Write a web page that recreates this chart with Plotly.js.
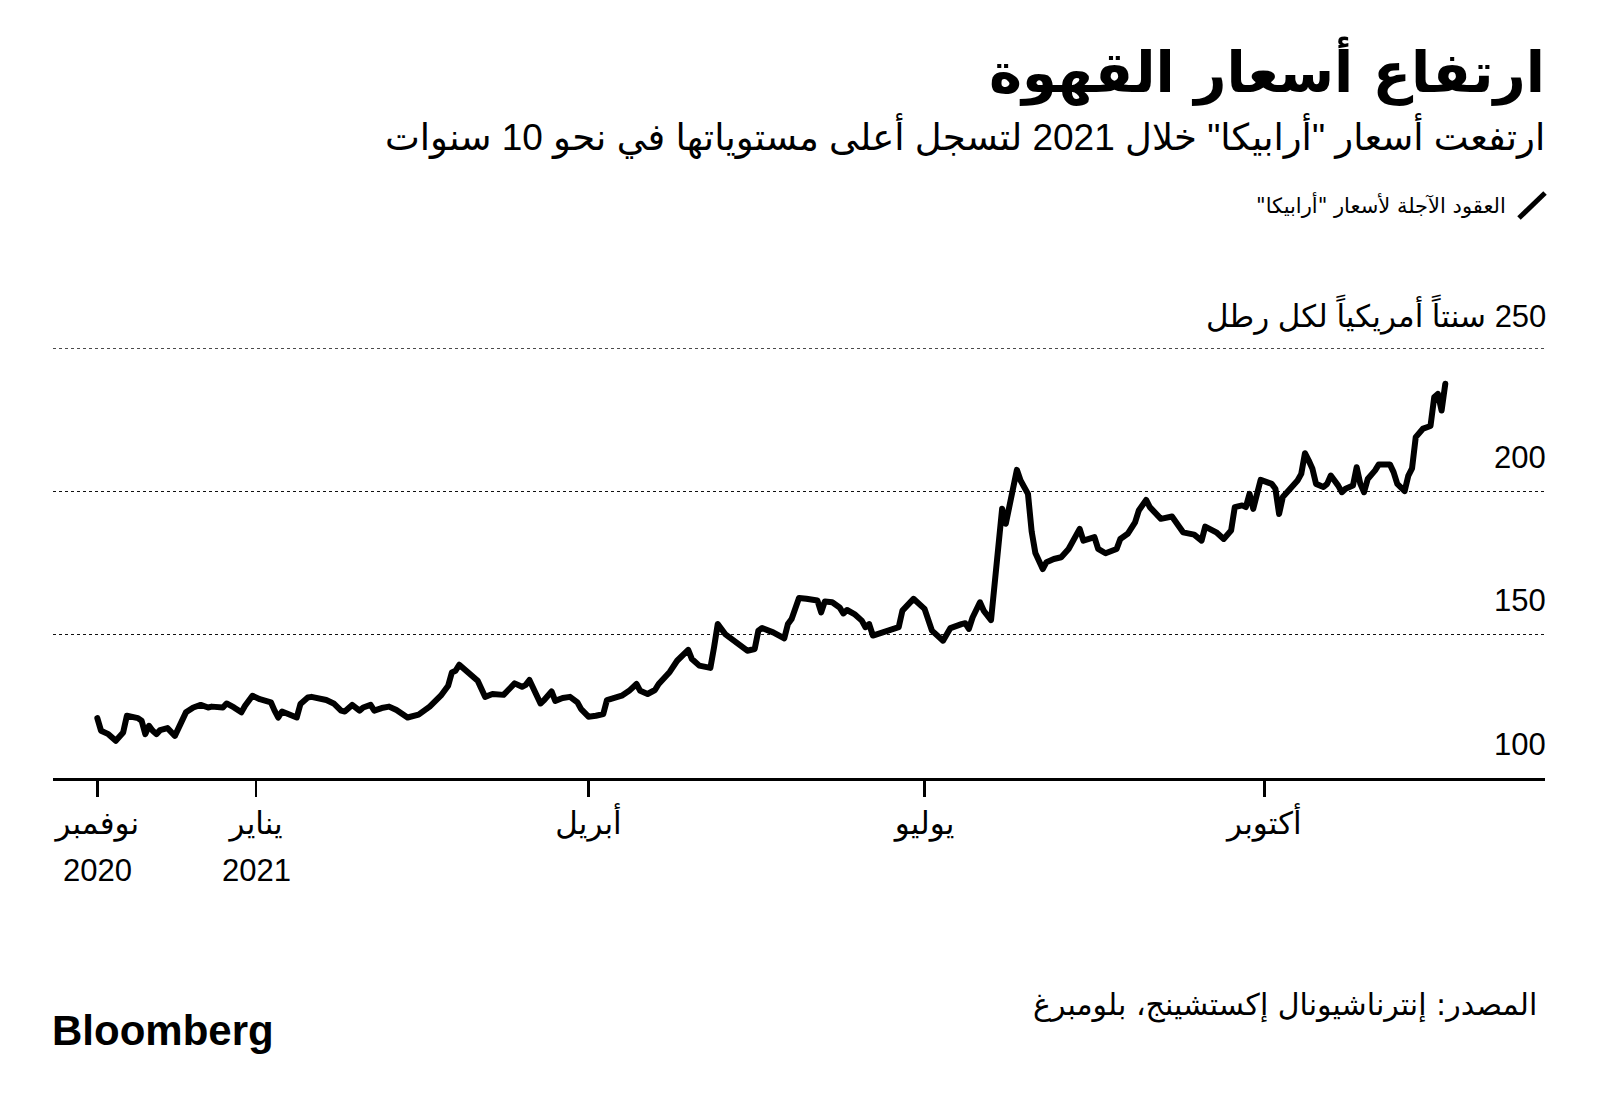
<!DOCTYPE html>
<html>
<head>
<meta charset="utf-8">
<script src="https://cdn.plot.ly/plotly-3.0.1.min.js"></script>
<style>
  html, body { margin: 0; padding: 0; background: #fff; }
  #chart { width: 1600px; height: 1108px; }
  .js-line { stroke-linejoin: round; stroke-linecap: round; }
</style>
</head>
<body>
<div id="chart"></div>
<script>
// ---- Data: Arabica coffee futures, US cents per pound ----
const dates = [
  '2020-11-19','2020-11-20','2020-11-22','2020-11-23','2020-11-24','2020-11-26','2020-11-27','2020-11-30',
  '2020-12-01','2020-12-02','2020-12-03','2020-12-04','2020-12-05','2020-12-06','2020-12-08','2020-12-10',
  '2020-12-11','2020-12-12','2020-12-13','2020-12-15','2020-12-17','2020-12-19','2020-12-20','2020-12-23',
  '2020-12-24','2020-12-26','2020-12-28','2020-12-29','2020-12-31',
  '2021-01-02','2021-01-05','2021-01-06','2021-01-07','2021-01-08','2021-01-10','2021-01-12','2021-01-13',
  '2021-01-15','2021-01-16','2021-01-20','2021-01-22','2021-01-24','2021-01-25','2021-01-27','2021-01-29',
  '2021-01-30','2021-02-01','2021-02-02','2021-02-04','2021-02-06','2021-02-08','2021-02-11','2021-02-14',
  '2021-02-17','2021-02-20','2021-02-22','2021-02-23','2021-02-24','2021-02-25','2021-02-27','2021-02-28',
  '2021-03-02','2021-03-04','2021-03-06','2021-03-09','2021-03-11','2021-03-12','2021-03-14','2021-03-15',
  '2021-03-16','2021-03-17','2021-03-19','2021-03-20','2021-03-22','2021-03-23','2021-03-25','2021-03-27',
  '2021-03-29','2021-03-30','2021-04-01','2021-04-03','2021-04-05','2021-04-06','2021-04-08','2021-04-10',
  '2021-04-12','2021-04-14','2021-04-15','2021-04-17','2021-04-19','2021-04-20','2021-04-23','2021-04-25',
  '2021-04-28','2021-04-29','2021-05-01','2021-05-04','2021-05-05','2021-05-06','2021-05-08','2021-05-11',
  '2021-05-14','2021-05-16','2021-05-17','2021-05-18','2021-05-21','2021-05-24','2021-05-25','2021-05-26',
  '2021-05-27','2021-05-28','2021-05-30','2021-06-02','2021-06-03','2021-06-04','2021-06-06','2021-06-08',
  '2021-06-09','2021-06-10','2021-06-12','2021-06-14','2021-06-15','2021-06-16','2021-06-17','2021-06-19',
  '2021-06-22','2021-06-24','2021-06-25','2021-06-28','2021-07-01','2021-07-02','2021-07-03','2021-07-06',
  '2021-07-07','2021-07-08','2021-07-11','2021-07-12','2021-07-13','2021-07-14','2021-07-16','2021-07-17',
  '2021-07-19','2021-07-20','2021-07-21','2021-07-22','2021-07-23','2021-07-24','2021-07-25','2021-07-26',
  '2021-07-27','2021-07-28','2021-07-29','2021-07-30','2021-07-31','2021-08-02','2021-08-03','2021-08-05',
  '2021-08-07','2021-08-09','2021-08-10','2021-08-12','2021-08-13','2021-08-14','2021-08-16','2021-08-17',
  '2021-08-19','2021-08-22','2021-08-23','2021-08-25','2021-08-27','2021-08-28','2021-08-30','2021-08-31',
  '2021-09-03','2021-09-06','2021-09-07','2021-09-09','2021-09-12','2021-09-14','2021-09-15','2021-09-18',
  '2021-09-20','2021-09-22','2021-09-23','2021-09-25','2021-09-26','2021-09-27','2021-09-28','2021-09-29',
  '2021-09-30','2021-10-03','2021-10-04','2021-10-05','2021-10-06','2021-10-08','2021-10-10','2021-10-11',
  '2021-10-12','2021-10-13','2021-10-14','2021-10-15','2021-10-17','2021-10-18','2021-10-19','2021-10-21',
  '2021-10-22','2021-10-23','2021-10-25','2021-10-26','2021-10-27','2021-10-28','2021-10-29','2021-10-31',
  '2021-11-01','2021-11-04','2021-11-05','2021-11-06','2021-11-08','2021-11-09','2021-11-10','2021-11-11',
  '2021-11-13','2021-11-15','2021-11-16','2021-11-17','2021-11-18','2021-11-19'
];
const prices = [
  120.9,116.5,115.3,114.1,113.0,115.9,121.7,120.9,
  120.0,115.3,118.2,116.5,115.3,116.7,117.4,114.7,
  117.4,119.4,122.9,124.6,125.5,124.6,124.9,124.6,
  126.0,124.6,122.9,125.2,128.7,
  127.5,126.4,123.5,121.1,123.2,122.1,121.1,125.8,
  128.1,128.3,127.2,126.0,123.5,123.2,125.5,123.5,
  124.6,125.5,123.5,124.4,124.9,123.7,121.1,122.1,
  124.9,128.7,132.2,136.8,137.4,139.5,137.4,136.0,
  133.9,128.3,129.3,129.0,131.6,133.0,131.8,132.5,
  134.2,131.6,126.0,127.2,130.2,126.9,127.9,128.3,
  126.4,124.0,121.4,121.7,122.3,127.2,128.1,128.7,
  130.4,132.8,130.4,129.3,130.7,132.8,137.0,140.9,
  144.7,141.5,139.2,138.4,145.6,153.7,150.2,147.3,
  144.4,145.0,151.4,152.3,150.8,148.7,153.7,155.5,
  159.5,162.8,162.5,161.9,157.8,161.6,161.3,159.5,
  157.4,158.6,157.2,154.9,152.6,153.7,149.7,150.5,
  152.0,152.6,158.4,162.5,159.0,154.9,151.4,147.9,
  150.2,152.3,153.7,154.0,152.0,156.0,161.3,158.4,
  155.1,167.7,182.8,193.9,188.7,194.5,201.5,207.5,
  203.8,201.5,199.1,186.0,178.5,172.9,175.3,176.4,
  177.0,179.9,182.2,186.9,182.8,183.1,184.0,179.9,
  178.4,179.9,183.4,185.2,189.2,193.3,197.0,194.5,
  190.4,191.2,189.2,185.7,184.9,182.8,187.7,185.7,
  183.4,186.3,194.5,195.1,194.5,199.1,193.9,199.1,
  204.0,202.6,200.9,192.1,198.0,200.9,203.8,206.1,
  213.3,210.8,208.0,202.6,201.5,202.6,205.5,202.0,
  199.7,200.9,202.0,208.4,202.6,199.7,204.3,207.3,
  209.4,209.4,206.7,202.6,200.1,205.5,208.0,218.9,
  221.9,222.8,232.8,234.0,228.2,237.5
];
const xRange = ['2020-11-07', '2021-12-16'];
const xTickDates = ['2020-11-19', '2021-01-01', '2021-04-01', '2021-07-01', '2021-10-01'];
const xTickLabels = ['نوفمبر', 'يناير', 'أبريل', 'يوليو', 'أكتوبر'];
const xTickYears = ['2020', '2021', '', '', ''];
const yRange = [100, 250];
const yTickValues = [100, 150, 200, 250];
const yTickLabels = ['100', '150', '200', '\u200F250 سنتاً أمريكياً لكل رطل'];

const titleText = 'ارتفاع أسعار القهوة';
const subtitleText = 'ارتفعت أسعار "أرابيكا" خلال 2021 لتسجل أعلى مستوياتها في نحو 10 سنوات';
const legendText = 'العقود الآجلة لأسعار "أرابيكا"\u200F';
const sourceText = 'المصدر: إنترناشيونال إكستشينج، بلومبرغ';
const logoText = 'Bloomberg';

// ---- Layout helpers (pixel -> paper) ----
const W = 1600, H = 1108;
const M = { l: 53, r: 55, t: 348, b: 330 };
const plotW = W - M.l - M.r, plotH = H - M.t - M.b;
const px = x => (x - M.l) / plotW;
const py = y => (H - M.b - y) / plotH;

const FONT_MIX = 'Liberation Sans, DejaVu Sans, sans-serif';
const FONT_AR = 'DejaVu Sans, sans-serif';
const GRID = { color: '#111', width: 1.5, dash: 'dot' };

const trace = {
  type: 'scatter', mode: 'lines',
  x: dates, y: prices,
  line: { color: '#000', width: 6 },
  hoverinfo: 'skip', showlegend: false
};

const annotations = [
  { text: titleText, x: px(1547), y: py(71), xanchor: 'right', yanchor: 'middle',
    font: { family: FONT_AR, size: 56, weight: 700, color: '#000' } },
  { text: subtitleText, x: px(1547), y: py(136), xanchor: 'right', yanchor: 'middle',
    font: { family: FONT_MIX, size: 37, color: '#000' } },
  { text: legendText, x: px(1508), y: py(205), xanchor: 'right', yanchor: 'middle',
    font: { family: FONT_AR, size: 21, color: '#000' } },
  { text: sourceText, x: px(1539), y: py(1005), xanchor: 'right', yanchor: 'middle',
    font: { family: FONT_AR, size: 30, color: '#000' } },
  { text: logoText, x: px(50), y: py(1030), xanchor: 'left', yanchor: 'middle',
    font: { family: 'Liberation Sans, Arial, sans-serif', size: 42, weight: 700, color: '#000' } }
];
yTickValues.forEach((v, i) => {
  annotations.push({
    text: yTickLabels[i], xref: 'paper', yref: 'y', x: px(1548), y: v,
    xanchor: 'right', yanchor: 'middle', yshift: 34,
    font: { family: FONT_MIX, size: 31, color: '#000' }
  });
});
xTickDates.forEach((d, i) => {
  if (!xTickYears[i]) return;
  annotations.push({
    text: xTickYears[i], xref: 'x', yref: 'paper', x: d, y: py(870),
    xanchor: 'center', yanchor: 'middle',
    font: { family: FONT_MIX, size: 31, color: '#000' }
  });
});
annotations.forEach(a => { a.showarrow = false; if (!a.xref) a.xref = 'paper'; if (!a.yref) a.yref = 'paper'; });

const layout = {
  width: W, height: H,
  margin: M,
  paper_bgcolor: '#fff', plot_bgcolor: '#fff',
  showlegend: false,
  xaxis: {
    type: 'date', range: xRange,
    tickmode: 'array', tickvals: xTickDates, ticktext: xTickLabels,
    ticks: 'outside', ticklen: 16, tickwidth: 2.5, tickcolor: '#000',
    showgrid: false, zeroline: false,
    showline: true, linecolor: '#000', linewidth: 3,
    tickfont: { family: FONT_MIX, size: 31, color: '#000' },
    fixedrange: true
  },
  yaxis: {
    range: yRange, tickmode: 'array', tickvals: yTickValues,
    showticklabels: false, ticks: '',
    showgrid: true, gridcolor: GRID.color, griddash: GRID.dash, gridwidth: GRID.width,
    zeroline: false, showline: false, fixedrange: true
  },
  shapes: [
    // top gridline (Plotly omits the gridline on the plot edge)
    { type: 'line', xref: 'paper', yref: 'y', x0: 0, x1: 1, y0: yRange[1], y1: yRange[1],
      line: { color: GRID.color, width: GRID.width, dash: GRID.dash }, layer: 'below' },
    // legend key: slanted stroke
    { type: 'line', xref: 'paper', yref: 'paper',
      x0: px(1519), y0: py(218), x1: px(1545), y1: py(193),
      line: { color: '#000', width: 5 } }
  ],
  annotations: annotations
};

Plotly.newPlot('chart', [trace], layout, { displayModeBar: false, staticPlot: true });
</script>
</body>
</html>
